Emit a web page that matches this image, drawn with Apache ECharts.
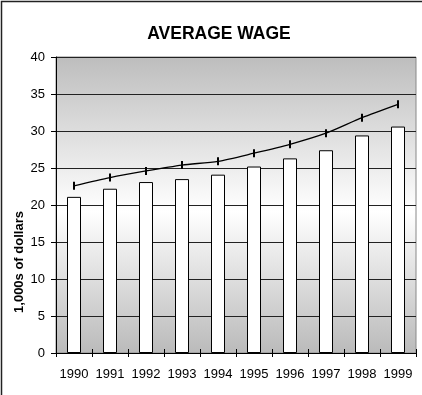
<!DOCTYPE html>
<html>
<head>
<meta charset="utf-8">
<script src="https://cdn.jsdelivr.net/npm/echarts@6/dist/echarts.min.js"></script>
<style>
  html, body { margin: 0; padding: 0; background: #fff; }
  #chart { width: 422px; height: 395px; }
</style>
</head>
<body>
<div id="chart"></div>
<script>
// Average wage by year, in thousands of dollars
const years = ['1990', '1991', '1992', '1993', '1994', '1995', '1996', '1997', '1998', '1999'];
const wageBars = [21.1, 22.2, 23.1, 23.5, 24.1, 25.2, 26.3, 27.4, 29.4, 30.6];
const wageLine = [22.6, 23.7, 24.6, 25.4, 25.9, 27.0, 28.2, 29.7, 31.8, 33.6];
const yTicks = [0, 5, 10, 15, 20, 25, 30, 35, 40];

const FONT = 'Liberation Sans, Arial, sans-serif';
const chart = echarts.init(document.getElementById('chart'), null, { renderer: 'canvas' });

chart.setOption({
  animation: false,
  backgroundColor: '#ffffff',
  title: {
    text: 'AVERAGE WAGE',
    left: 214,
    textAlign: 'center',
    top: 20,
    textStyle: { fontFamily: FONT, fontSize: 17.5, fontWeight: 'bold', color: '#000' }
  },
  graphic: [
    {
      type: 'rect',
      shape: { x: 1.5, y: 1.5, width: 440, height: 420 },
      style: { fill: 'none', stroke: '#222', lineWidth: 1.5 },
      silent: true
    },
    {
      type: 'text',
      x: 19,
      y: 262,
      rotation: Math.PI / 2,
      style: {
        text: '1,000s of dollars',
        font: 'bold 13px ' + FONT,
        fill: '#000',
        textAlign: 'center',
        textVerticalAlign: 'middle'
      }
    }
  ],
  grid: {
    left: 56,
    right: 6,
    top: 57,
    bottom: 42,
    show: true,
    borderColor: '#888',
    borderWidth: 1,
    backgroundColor: new echarts.graphic.LinearGradient(0, 0, 0, 1, [
      { offset: 0, color: '#bdbdbd' },
      { offset: 0.52, color: '#ffffff' },
      { offset: 1, color: '#bababa' }
    ])
  },
  xAxis: [
    {
      type: 'category',
      data: years,
      position: 'bottom',
      boundaryGap: true,
      axisLine: { lineStyle: { color: '#000', width: 1 } },
      axisTick: { show: true, inside: false, length: 4, interval: 0, lineStyle: { color: '#000' } },
      axisLabel: { interval: 0, hideOverlap: false, margin: 15, fontFamily: FONT, fontSize: 13, color: '#000' },
      splitLine: { show: false }
    },
    {
      type: 'category',
      data: years,
      position: 'bottom',
      boundaryGap: true,
      axisLine: { show: false },
      axisTick: { show: true, inside: true, length: 4, interval: 0, lineStyle: { color: '#000' } },
      axisLabel: { show: false },
      splitLine: { show: false }
    }
  ],
  yAxis: {
    type: 'value',
    min: yTicks[0],
    max: yTicks[yTicks.length - 1],
    interval: yTicks[1] - yTicks[0],
    axisLine: { show: true, lineStyle: { color: '#000', width: 1 } },
    axisTick: { show: true, inside: false, length: 5, lineStyle: { color: '#000' } },
    axisLabel: { margin: 11, fontFamily: FONT, fontSize: 13, color: '#000' },
    splitLine: { show: true, lineStyle: { color: '#222', width: 1 } }
  },
  series: [
    {
      type: 'bar',
      data: wageBars,
      barWidth: 14,
      itemStyle: { color: '#ffffff', borderColor: '#000', borderWidth: 1 },
      z: 2
    },
    {
      type: 'line',
      data: wageLine,
      smooth: 0.25,
      symbol: 'rect',
      symbolSize: [2, 8],
      showSymbol: true,
      itemStyle: { color: '#000' },
      lineStyle: { color: '#000', width: 1.3 },
      z: 3
    }
  ]
});
</script>
</body>
</html>
